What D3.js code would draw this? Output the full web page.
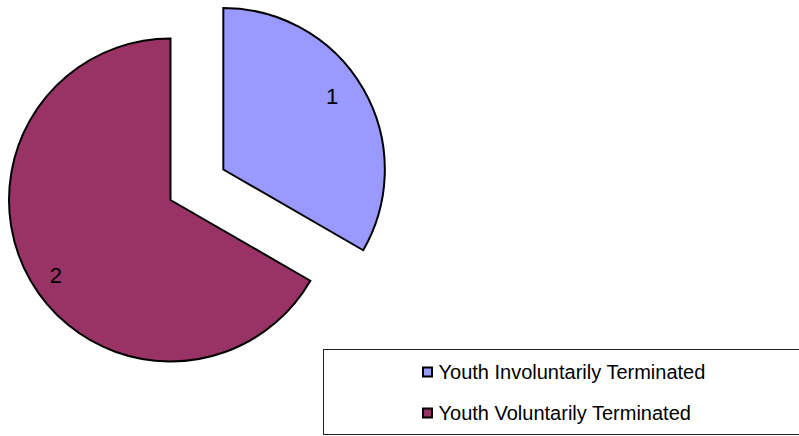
<!DOCTYPE html>
<html>
<head>
<meta charset="utf-8">
<script src="https://cdn.jsdelivr.net/npm/d3@7"></script>
<style>
  body { margin: 0; background: #fff; }
  svg { display: block; }
</style>
</head>
<body>
<div id="chart"></div>
<script>
// Data
var categories = ["Youth Involuntarily Terminated", "Youth Voluntarily Terminated"];
var values = [1, 2];
var colors = ["#9999FF", "#993366"];
var exploded = [61, 0];

var svgWidth = 799;
var svgHeight = 436;

var svg = d3.select("#chart")
    .append("svg")
    .attr("width", svgWidth)
    .attr("height", svgHeight);

var cx = 170.5, cy = 200, radius = 161.5;

var pie = d3.pie().sort(null).value(d => d.value);
var arcs = pie(values.map((v, i) => ({ value: v, name: categories[i], i: i })));

var arc = d3.arc().innerRadius(0).outerRadius(radius);

var pieGroup = svg.append("g")
    .attr("transform", `translate(${cx}, ${cy})`);

var slices = pieGroup.selectAll("g.slice")
    .data(arcs)
    .enter()
    .append("g")
    .attr("class", "slice")
    .attr("transform", function(d) {
        var mid = (d.startAngle + d.endAngle) / 2;
        var off = exploded[d.index];
        return `translate(${off * Math.sin(mid)}, ${-off * Math.cos(mid)})`;
    });

slices.append("path")
    .attr("d", arc)
    .attr("fill", d => colors[d.index])
    .attr("stroke", "#000")
    .attr("stroke-width", 2)
    .attr("stroke-linejoin", "miter");

// value labels, a little before the bisector like Excel does
var labelR = 134;
var labelShift = -3.5 * Math.PI / 180;
slices.append("text")
    .attr("x", d => labelR * Math.sin((d.startAngle + d.endAngle) / 2 + labelShift) - 3)
    .attr("y", d => -labelR * Math.cos((d.startAngle + d.endAngle) / 2 + labelShift) + 1)
    .attr("dy", "0.36em")
    .attr("text-anchor", "middle")
    .attr("font-family", "Liberation Sans, Arial, sans-serif")
    .attr("font-size", "22px")
    .attr("fill", "#000")
    .text(d => d.data.value);

// Legend
var legend = svg.append("g");
legend.append("rect")
    .attr("x", 323.5)
    .attr("y", 349.5)
    .attr("width", 480)
    .attr("height", 85)
    .attr("fill", "#fff")
    .attr("stroke", "#222")
    .attr("stroke-width", 1);

var legendY = d3.scalePoint()
    .domain(categories)
    .range([372, 413]);

var item = legend.selectAll("g.item")
    .data(categories)
    .enter()
    .append("g")
    .attr("class", "item")
    .attr("transform", d => `translate(422, ${legendY(d)})`);

item.append("rect")
    .attr("x", 1)
    .attr("y", -4.5)
    .attr("width", 9)
    .attr("height", 9)
    .attr("fill", (d, i) => colors[i])
    .attr("stroke", "#000")
    .attr("stroke-width", 2);

item.append("text")
    .attr("x", 16.5)
    .attr("y", 0)
    .attr("dy", "0.36em")
    .attr("font-family", "Liberation Sans, Arial, sans-serif")
    .attr("font-size", "20px")
    .attr("fill", "#000")
    .text(d => d);
</script>
</body>
</html>
